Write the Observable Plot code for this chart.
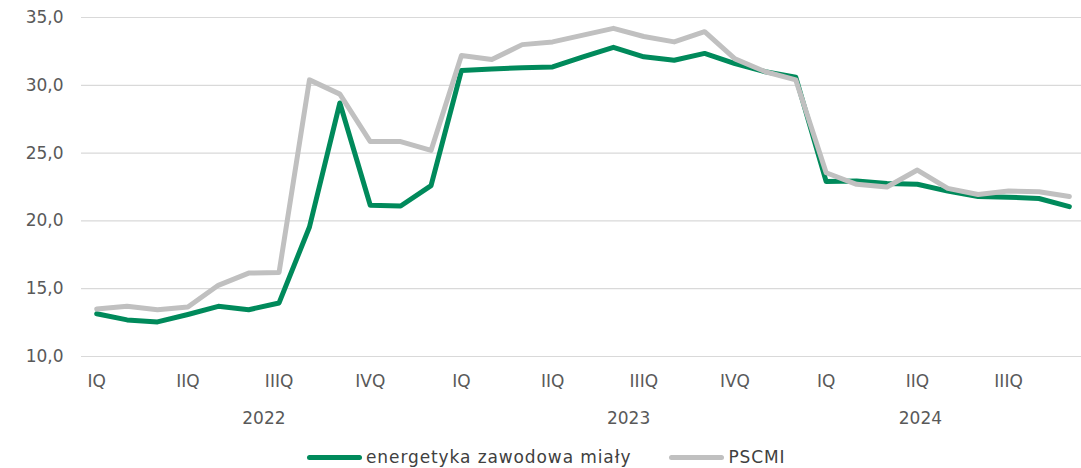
<!DOCTYPE html>
<html>
<head>
<meta charset="utf-8">
<script src="https://cdn.jsdelivr.net/npm/d3@7"></script>
<script src="https://cdn.jsdelivr.net/npm/@observablehq/plot@0.6"></script>
<style>
  html, body { margin: 0; padding: 0; background: #fff; }
  body { width: 1081px; height: 468px; position: relative; overflow: hidden; font-family: "DejaVu Sans", sans-serif; }
  #legend { position: absolute; left: 307px; top: 446px; height: 22px; display: flex; align-items: center; font-size: 17px; letter-spacing: 0.9px; color: #404040; white-space: nowrap; }
  .sw { width: 55px; height: 5px; border-radius: 3px; margin-right: 4px; }
  .item { display: flex; align-items: center; }
</style>
</head>
<body>
<div id="chart"></div>
<div id="legend"></div>
<script>
// monthly data, Jan 2022 – Sep 2024
const months = d3.range(33).map(i => new Date(2022, i, 1));
const energetyka = [13.15, 12.7, 12.55, 13.1, 13.7, 13.45, 13.95, 19.55, 28.7, 21.15, 21.1, 22.6,
                    31.1, 31.2, 31.3, 31.35, 32.1, 32.8, 32.1, 31.85, 32.35, 31.6, 31.0, 30.6,
                    22.9, 22.95, 22.75, 22.7, 22.2, 21.8, 21.75, 21.65, 21.05];
const pscmi = [13.5, 13.7, 13.45, 13.65, 15.25, 16.15, 16.2, 30.4, 29.35, 25.85, 25.85, 25.2,
               32.2, 31.9, 33.0, 33.2, 33.7, 34.2, 33.6, 33.2, 33.95, 31.95, 31.0, 30.4,
               23.55, 22.7, 22.5, 23.75, 22.4, 21.95, 22.2, 22.15, 21.8];
const quarterLabels = ["IQ", "IIQ", "IIIQ", "IVQ"];
const years = ["2022", "2023", "2024"];
const yearCenters = [5.5, 17.5, 27.1]; // category index at which each year label is centred
const series = [
  {name: "energetyka zawodowa miały", values: energetyka, color: "#008A5B"},
  {name: "PSCMI", values: pscmi, color: "#C0C0C0"}
];
const yTicks = [10, 15, 20, 25, 30, 35];

const rows = series.flatMap(s => s.values.map((v, i) => ({i, v, name: s.name, date: months[i]})));
const quarterTicks = d3.range(0, 33, 3);
const yearRows = years.map((y, k) => ({y, x: yearCenters[k]}));

const fmt = d => d.toFixed(1).replace(".", ",");

const plot = Plot.plot({
  width: 1081,
  height: 446,
  marginLeft: 81,
  marginRight: 0,
  marginTop: 17,
  marginBottom: 90,
  style: {fontFamily: "'DejaVu Sans', sans-serif", fontSize: "17px", color: "#595959", background: "#fff"},
  x: {type: "linear", domain: [-0.5, 32.4], axis: null},
  y: {domain: [10, 35], axis: null},
  color: {domain: series.map(s => s.name), range: series.map(s => s.color)},
  marks: [
    Plot.ruleY(yTicks, {stroke: "#D9D9D9", strokeWidth: 1.2}),
    Plot.text(yTicks, {x: -0.5, y: d => d, text: fmt, textAnchor: "end", dx: -18, fill: "#595959", fontSize: 17}),
    Plot.text(quarterTicks, {x: d => d, y: 10, text: d => quarterLabels[(d / 3) % 4], dy: 25, fill: "#595959", fontSize: 17}),
    Plot.text(yearRows, {x: "x", y: 10, text: "y", dy: 62, fill: "#595959", fontSize: 17}),
    Plot.line(rows, {x: "i", y: "v", z: "name", stroke: "name", strokeWidth: 5, strokeLinejoin: "round", strokeLinecap: "round"})
  ]
});
document.getElementById("chart").appendChild(plot);

const legend = document.getElementById("legend");
series.forEach((s, k) => {
  const item = document.createElement("div");
  item.className = "item";
  if (k > 0) item.style.marginLeft = "38px";
  const sw = document.createElement("div");
  sw.className = "sw";
  sw.style.background = s.color;
  const t = document.createElement("span");
  t.textContent = s.name;
  item.appendChild(sw);
  item.appendChild(t);
  legend.appendChild(item);
});
</script>
</body>
</html>
